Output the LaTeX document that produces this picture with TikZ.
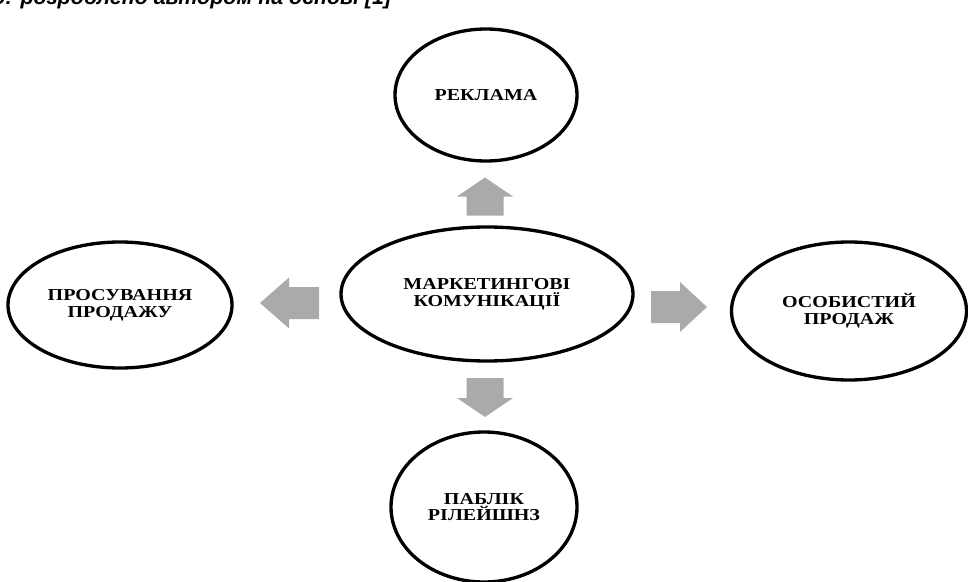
\documentclass[tikz,border=0pt]{standalone}
\usepackage{fontspec}
\setmainfont{Liberation Serif}
\newfontfamily\boxfont[FakeStretch=1.2]{Liberation Serif}
\newfontfamily\notefont{Liberation Sans}
\usepackage{xcolor}
\usetikzlibrary{shapes.geometric}

\definecolor{arrowgray}{RGB}{170,170,170}

\tikzset{
  oval/.style={ellipse, draw=black, line width=1.9pt, inner sep=0pt,
    align=center, font=\boxfont\bfseries\fontsize{9.5}{9.5}\selectfont},
  blockarrow/.style={fill=arrowgray, draw=none}
}

\begin{document}
\begin{tikzpicture}
  \clip (0,0) rectangle (19.36,11.62);
  \useasboundingbox (0,0) rectangle (19.36,11.62);

  % source line, cut at the top edge
  \node[anchor=base east, font=\notefont\bfseries\itshape\fontsize{12.2}{12.2}\selectfont]
    (source) at (7.95,11.54) {Джерело: розроблено автором на основі [1]};

  \node[oval, minimum width=5.84cm, minimum height=2.68cm] (mk) at (9.74,5.74) {МАРКЕТИНГОВІ\\КОМУНІКАЦІЇ};
  \node[oval, minimum width=3.64cm, minimum height=2.64cm] (ad) at (9.72,9.72) {РЕКЛАМА};
  \node[oval, minimum width=4.48cm, minimum height=2.52cm] (promo) at (2.40,5.52) {ПРОСУВАННЯ\\ПРОДАЖУ};
  \node[oval, minimum width=4.70cm, minimum height=2.76cm] (sell) at (16.98,5.40) {ОСОБИСТИЙ\\ПРОДАЖ};
  \node[oval, minimum width=3.72cm, minimum height=3.00cm] (pr) at (9.68,1.48) {ПАБЛІК\\РІЛЕЙШНЗ};

  % block arrows: centre x / centre y / angle / length / head length / shaft / head
  \foreach \cx/\cy/\ang/\len/\hl/\sw/\hw in {
      9.70/7.69/90/0.76/0.38/0.37/0.56,
      9.70/3.67/-90/0.78/0.38/0.37/0.56,
      5.79/5.56/180/1.18/0.58/0.32/0.51,
      13.58/5.48/0/1.12/0.54/0.32/0.50}
    \fill[blockarrow, shift={(\cx,\cy)}, rotate=\ang]
      (-\len/2,-\sw) -- (\len/2-\hl,-\sw) -- (\len/2-\hl,-\hw) -- (\len/2,0)
      -- (\len/2-\hl,\hw) -- (\len/2-\hl,\sw) -- (-\len/2,\sw) -- cycle;
\end{tikzpicture}
\end{document}
